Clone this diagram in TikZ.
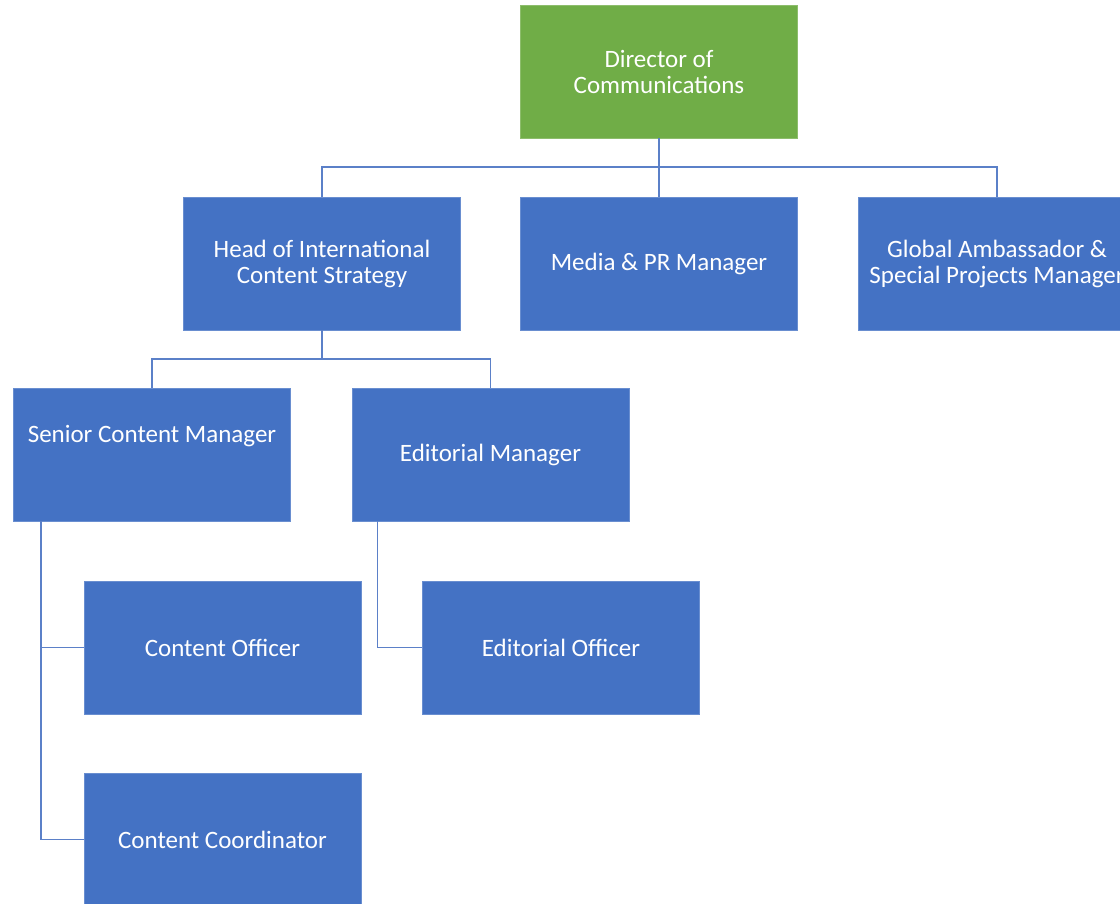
\documentclass[tikz,border=0pt]{standalone}
\usepackage{fontspec}
\setmainfont{Carlito}
\definecolor{boxblue}{HTML}{4472C4}
\definecolor{boxgreen}{HTML}{70AD47}
\definecolor{lineblue}{HTML}{5B80C8}
\begin{document}
\begin{tikzpicture}[x=1pt,y=-1pt,
  orgbox/.style={draw=boxblue!80!white,line width=0.8pt,fill=boxblue,text=white,minimum width=277pt,minimum height=133pt,inner sep=0pt,align=center,font=\fontsize{25}{26}\selectfont},
  conn/.style={draw=lineblue,line width=1.4pt}]
\useasboundingbox (0,0) rectangle (1120,904);
\begin{scope}
\clip (0,0) rectangle (1120,904);
\node[orgbox,fill=boxgreen,draw=boxgreen!80!white] (dir) at (659,71.5) {Director of\\Communications};
\node[orgbox] (head) at (322,263.5) {Head of International\\Content Strategy};
\node[orgbox] (media) at (659,263.5) {Media \& PR Manager};
\node[orgbox] (glob) at (997,263.5) {Global Ambassador \&\\Special Projects Manager};
\node[orgbox] (scm) at (152,454.5) {};
\node[text=white,font=\fontsize{25}{26}\selectfont] (scmt) at (152,436) {Senior Content Manager};
\node[orgbox] (edm) at (490.5,454.5) {Editorial Manager};
\node[orgbox] (co) at (222.5,647.5) {Content Officer};
\node[orgbox] (eo) at (561,647.5) {Editorial Officer};
\node[orgbox] (cc) at (222.5,839.5) {Content Coordinator};
\end{scope}
\coordinate (bus1) at (659,167);
\coordinate (bus2) at (322,359);
\draw[conn] (dir.south) -- (bus1);
\draw[conn] (bus1) -| (head.north);
\draw[conn] (bus1) -- (media.north);
\draw[conn] (bus1) -| (glob.north);
\draw[conn] (head.south) -- (bus2);
\draw[conn] (bus2) -| (scm.north);
\draw[conn] (bus2) -| (edm.north);
\draw[conn] (scm.south west) ++(28,0) |- (co.west);
\draw[conn] (scm.south west) ++(28,0) |- (cc.west);
\draw[conn] (edm.south west) ++(26,0) |- (eo.west);
\end{tikzpicture}
\end{document}
